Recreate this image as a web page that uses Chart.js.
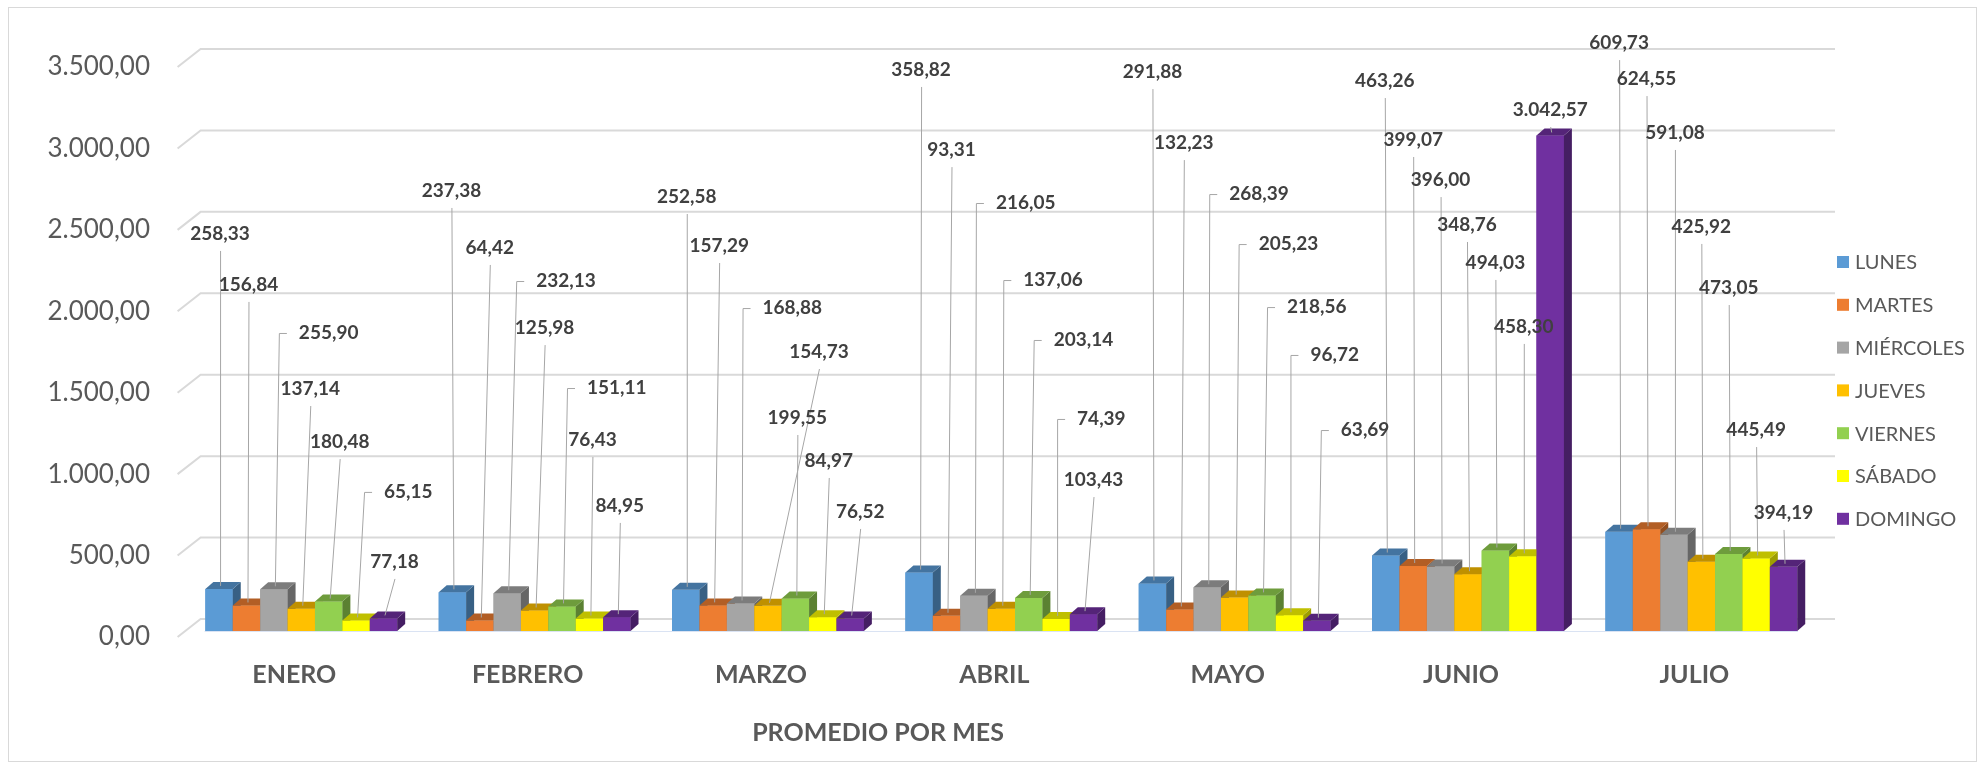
<!DOCTYPE html>
<html>
<head>
<meta charset="utf-8">
<script src="https://cdn.jsdelivr.net/npm/chart.js@4.4.1/dist/chart.umd.min.js"></script>
<style>
    html, body { margin: 0; padding: 0; background: #fff; }
    canvas { display: block; }
</style>
</head>
<body>
<canvas id="promedioChart" width="1986" height="770"></canvas>
<script>
const months = ['ENERO', 'FEBRERO', 'MARZO', 'ABRIL', 'MAYO', 'JUNIO', 'JULIO'];
const days = ['LUNES', 'MARTES', 'MIÉRCOLES', 'JUEVES', 'VIERNES', 'SÁBADO', 'DOMINGO'];
const lunes = [258.33, 237.38, 252.58, 358.82, 291.88, 463.26, 609.73];
const martes = [156.84, 64.42, 157.29, 93.31, 132.23, 399.07, 624.55];
const miercoles = [255.90, 232.13, 168.88, 216.05, 268.39, 396.00, 591.08];
const jueves = [137.14, 125.98, 154.73, 137.06, 205.23, 348.76, 425.92];
const viernes = [180.48, 151.11, 199.55, 203.14, 218.56, 494.03, 473.05];
const sabado = [65.15, 76.43, 84.97, 74.39, 96.72, 458.30, 445.49];
const domingo = [77.18, 84.95, 76.52, 103.43, 63.69, 3042.57, 394.19];
const yTicks = [0, 500, 1000, 1500, 2000, 2500, 3000, 3500];
const axisTitle = 'PROMEDIO POR MES';

const series = [lunes, martes, miercoles, jueves, viernes, sabado, domingo];
const colors = ['#5B9BD5', '#ED7D31', '#A5A5A5', '#FFC000', '#92D050', '#FFFF00', '#7030A0'];

// where Excel left each data label: height on the value axis, sideways shift (px), kind
// c = text sits above its leader, e = leader bends into the left side of the text
const labelAt = [
    [2438, 2702, 2665, 3445, 3432, 3377, 3610],
    [2125, 2352, 2364, 2953, 2996, 3015, 3389],
    [1830, 2149, 1983, 2628, 2683, 2769, 3058],
    [1486, 1860, 1713, 2155, 2376, 2493, 2481],
    [1160, 1492, 1308, 1787, 1989, 2260, 2106],
    [854, 1173, 1044, 1302, 1695, 1867, 1234],
    [424, 768, 731, 927, 1234, 3199, 725]
];
const labelShift = [
    [1, -1, 1, 2, 0, -1, 0],
    [2, 10, 6, 5, 4, 0, 0],
    [5, 9, 2, 2, 2, 0, 1],
    [9, 10, 51, 2, 4, -1, 0],
    [11, 5, 2, 5, 5, 0, 0],
    [8, 3, 6, 1, 1, 1, 0],
    [11, 3, 10, 10, 4, 0, 0]
];
const labelKind = ['ccccccc', 'ccccccc', 'eeeeecc', 'ccceecc', 'ceceecc', 'ecceecc', 'ccccecc'];

const DX = 8, DY = 7;          // bar depth
const WX = 23, WY = 18;        // wall depth

function fmt(v) {
    const parts = v.toFixed(2).split('.');
    return parts[0].replace(/\B(?=(\d{3})+(?!\d))/g, '.') + ',' + parts[1];
}

function shade(hex, f) {
    const n = parseInt(hex.slice(1), 16);
    const r = Math.round(((n >> 16) & 255) * f);
    const g = Math.round(((n >> 8) & 255) * f);
    const b = Math.round((n & 255) * f);
    return 'rgb(' + r + ',' + g + ',' + b + ')';
}

const walls = {
    id: 'walls',
    beforeDatasetsDraw(chart) {
        const c = chart.ctx, a = chart.chartArea, y = chart.scales.y;
        c.save();
        c.strokeStyle = '#d9d9d9';
        c.lineWidth = 2;
        yTicks.forEach(t => {
            const py = y.getPixelForValue(t);
            c.beginPath();
            c.moveTo(a.left - 7, py + 6);
            c.lineTo(a.left + WX - 7, py + 6 - WY);
            c.lineTo(a.right + 17, py + 6 - WY);
            c.stroke();
        });
        c.strokeStyle = '#dae3f3';
        c.lineWidth = 1;
        c.beginPath();
        c.moveTo(a.left + 20, a.bottom + 0.5);
        c.lineTo(a.right - 20, a.bottom + 0.5);
        c.stroke();
        c.restore();
    }
};

const bars3d = {
    id: 'bars3d',
    afterDatasetsDraw(chart) {
        const c = chart.ctx;
        c.save();
        for (let i = 0; i < months.length; i++) {
            chart.data.datasets.forEach((ds, j) => {
                const el = chart.getDatasetMeta(j).data[i];
                const l = el.x - el.width / 2, r = el.x + el.width / 2;
                c.fillStyle = ds.backgroundColor;
                c.fillRect(l, el.y, el.width, el.base - el.y);
                c.fillStyle = shade(ds.backgroundColor, 0.62);
                c.beginPath();
                c.moveTo(r, el.y);
                c.lineTo(r + DX, el.y - DY);
                c.lineTo(r + DX, el.base - DY);
                c.lineTo(r, el.base);
                c.closePath();
                c.fill();
                c.fillStyle = shade(ds.backgroundColor, 0.75);
                c.beginPath();
                c.moveTo(l, el.y);
                c.lineTo(l + DX, el.y - DY);
                c.lineTo(r + DX, el.y - DY);
                c.lineTo(r, el.y);
                c.closePath();
                c.fill();
            });
        }
        c.restore();
    }
};

const texts = {
    id: 'texts',
    afterDraw(chart) {
        const c = chart.ctx, a = chart.chartArea, x = chart.scales.x, y = chart.scales.y;
        c.save();

        // data labels with leader lines
        chart.data.datasets.forEach((ds, j) => {
            ds.data.forEach((v, i) => {
                const el = chart.getDatasetMeta(j).data[i];
                const ly = y.getPixelForValue(labelAt[j][i]);
                const lx = el.x + labelShift[j][i];
                const bx = el.x + 1, by = el.y - 3;
                c.strokeStyle = '#a6a6a6';
                c.lineWidth = 1;
                c.font = 'bold 19px Lato';
                c.fillStyle = '#404040';
                c.textBaseline = 'middle';
                if (labelKind[j][i] === 'e') {
                    c.beginPath();
                    c.moveTo(bx + 0.5, by);
                    c.lineTo(lx + 0.5, ly + 0.5);
                    c.lineTo(lx + 8, ly + 0.5);
                    c.stroke();
                    c.textAlign = 'left';
                    c.fillText(fmt(v), lx + 20, ly);
                } else {
                    if (by - (ly + 17) > 4) {
                        c.beginPath();
                        c.moveTo(bx + 0.5, by);
                        c.lineTo(lx + 0.5, ly + 17);
                        c.stroke();
                    }
                    c.textAlign = 'center';
                    c.fillText(fmt(v), lx, ly);
                }
            });
        });

        // value axis
        c.font = '26px Lato';
        c.fillStyle = '#595959';
        c.textAlign = 'right';
        c.textBaseline = 'middle';
        yTicks.forEach(t => c.fillText(fmt(t), 150, y.getPixelForValue(t) + 6));

        // months
        c.font = 'bold 25px Lato';
        c.textAlign = 'center';
        months.forEach((m, i) => c.fillText(m, x.getPixelForValue(i) - 7, 675));
        c.fillText(axisTitle, 878, 733);

        // legend
        c.font = '20px Lato';
        c.textAlign = 'left';
        chart.data.datasets.forEach((ds, j) => {
            const cy = 262 + j * 42.8;
            c.fillStyle = ds.backgroundColor;
            c.fillRect(1837, cy - 6, 12, 12);
            c.fillStyle = '#595959';
            c.fillText(ds.label, 1855, cy + 1);
        });

        // chart frame
        c.strokeStyle = '#d9d9d9';
        c.lineWidth = 1;
        c.strokeRect(8.5, 7.5, 1968, 754);
        c.restore();
    }
};

new Chart(document.getElementById('promedioChart'), {
    type: 'bar',
    data: {
        labels: months,
        datasets: days.map((d, j) => ({
            label: d,
            data: series[j],
            backgroundColor: colors[j],
            borderWidth: 0
        }))
    },
    options: {
        responsive: false,
        animation: false,
        layout: { padding: { left: 184.6, right: 168, top: 61, bottom: 139 } },
        datasets: { bar: { barPercentage: 1, categoryPercentage: 0.822 } },
        scales: {
            x: { display: false },
            y: { display: false, min: 0, max: 3500 }
        },
        plugins: {
            legend: { display: false },
            tooltip: { enabled: false }
        }
    },
    plugins: [walls, bars3d, texts]
});
</script>
</body>
</html>
